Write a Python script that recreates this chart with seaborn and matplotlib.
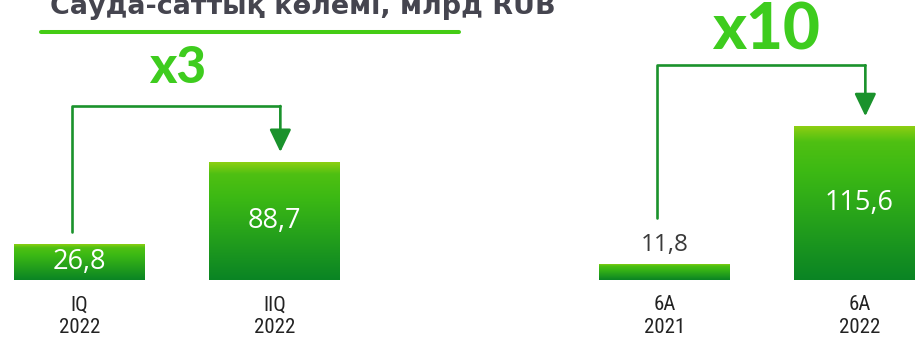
import numpy as np
import pandas as pd
import matplotlib
matplotlib.use("Agg")
import matplotlib.pyplot as plt
import seaborn as sns
from matplotlib import font_manager as fm
from matplotlib.colors import LinearSegmentedColormap
from matplotlib.lines import Line2D

# ---- data -------------------------------------------------------------
title = "Сауда-саттық көлемі, млрд RUB"

quarter_labels = ["IQ\n2022", "IIQ\n2022"]
quarter_values = [26.8, 88.7]
quarter_growth = "x3"

halfyear_labels = ["6А\n2021", "6А\n2022"]
halfyear_values = [11.8, 115.6]
halfyear_growth = "x10"

# ---- style ------------------------------------------------------------
sns.set_theme(style="white")
plt.rcParams["font.family"] = ["Open Sans", "DejaVu Sans"]

W, H = 915, 341
PX_PER_UNIT = 1.33           # vertical pixels per billion RUB
SLOT = 195                   # pixels between neighbouring bar centres
BAR_W = 131 / SLOT

TITLE_GREY = "#45454f"
ARROW_GREEN = "#1a922c"
GROWTH_GREEN = "#3ecc1e"

bar_cmap = LinearSegmentedColormap.from_list(
    "bar_grad",
    [(0.0, "#8dcf12"), (0.10, "#4fc012"), (0.30, "#3cb914"), (1.0, "#0a8424")],
)


def narrow_font():
    """A regular-weight condensed sans for the period labels, if one exists."""
    wanted = ["liberation sans narrow", "roboto condensed", "open sans condensed",
              "noto sans condensed", "dejavu sans condensed"]
    entries = fm.fontManager.ttflist
    for w in wanted:
        for f in entries:
            if f.name.lower() == w and f.style == "normal" and f.weight in (400, "normal", "regular"):
                return fm.FontProperties(fname=f.fname)
    for fam in ("Noto Sans", "DejaVu Sans", "Open Sans"):
        for f in entries:
            if (f.name == fam and f.style == "normal"
                    and f.weight in (400, "normal", "regular")
                    and str(f.stretch).lower() in ("condensed", "semi-condensed")):
                return fm.FontProperties(fname=f.fname)
    return fm.FontProperties(family=["Roboto", "DejaVu Sans"])


PERIOD_FONT = narrow_font()

fig = plt.figure(figsize=(W / 100, H / 100), dpi=100)
fig.patch.set_facecolor("white")

bottom_px = 280
ax_h = bottom_px / H
ax_b = (H - bottom_px) / H
ymax = bottom_px / PX_PER_UNIT


def gradient_bars(ax):
    """Replace flat bar fills with a vertical green gradient."""
    grad = np.linspace(0, 1, 256).reshape(-1, 1)
    for patch in list(ax.patches):
        x0, y0 = patch.get_x(), patch.get_y()
        w, h = patch.get_width(), patch.get_height()
        im = ax.imshow(grad, cmap=bar_cmap, aspect="auto", origin="upper",
                       extent=[x0, x0 + w, y0, y0 + h], zorder=2,
                       interpolation="bicubic")
        im.set_clip_path(patch)
        patch.set_facecolor("none")
        patch.set_edgecolor("none")


def panel(ax, labels, values, growth, centre_px, left_px, right_px,
          rise_px, growth_size, growth_gap_px, growth_x):
    df = pd.DataFrame({"period": labels, "value": values})
    sns.barplot(data=df, x="period", y="value", ax=ax, width=BAR_W,
                color="#3cb914", saturation=1, edgecolor="none")
    gradient_bars(ax)

    # value labels: inside the bar when there is room, above otherwise
    label_gap = []
    for i, v in enumerate(values):
        txt = f"{v:.1f}".replace(".", ",")
        if v * PX_PER_UNIT > 30:
            ax.text(i, v / 2, txt, ha="center", va="center", color="white",
                    fontsize=19.5, zorder=4)
            label_gap.append(12)
        else:
            ax.annotate(txt, xy=(i, v), xytext=(0, 5),
                        textcoords="offset points", ha="center",
                        va="bottom", color="#3a3a3a", fontsize=17.5, zorder=4)
            label_gap.append(46)

    # bracket arrow from the first bar to the second
    xs, xe = -0.04, 1.03
    y_start = values[0] + label_gap[0] / PX_PER_UNIT
    y_top = values[1] + rise_px / PX_PER_UNIT
    y_tip = values[1] + 10 / PX_PER_UNIT
    ax.plot([xs, xs, xe], [y_start, y_top, y_top], color=ARROW_GREEN,
            lw=1.9, solid_joinstyle="round", zorder=3)
    ax.annotate("", xy=(xe, y_tip), xytext=(xe, y_top),
                arrowprops=dict(arrowstyle="-|>,head_length=1.15,head_width=0.55",
                                color=ARROW_GREEN, lw=1.9,
                                shrinkA=0, shrinkB=0),
                zorder=3)
    ax.annotate(growth, xy=(growth_x, y_top), xytext=(0, growth_gap_px * 0.72),
                textcoords="offset points", ha="center", va="baseline",
                fontsize=growth_size, fontweight="black", color=GROWTH_GREEN,
                family=["Lato", "DejaVu Sans"], zorder=4)

    ax.set_ylim(0, ymax)
    ax.set_xlim((left_px - centre_px) / SLOT, (right_px - centre_px) / SLOT)
    ax.set_xlabel("")
    ax.set_ylabel("")
    ax.set_yticks([])
    ax.tick_params(axis="x", length=0, pad=11, labelcolor="#222222")
    for lbl in ax.get_xticklabels():
        lbl.set_fontproperties(PERIOD_FONT)
        lbl.set_fontsize(15)
        lbl.set_linespacing(1.22)
    for s in ax.spines.values():
        s.set_visible(False)
    ax.set_facecolor("none")


ax1 = fig.add_axes([0, ax_b, 457 / W, ax_h])
ax2 = fig.add_axes([458 / W, ax_b, 457 / W, ax_h])

panel(ax1, quarter_labels, quarter_values, quarter_growth,
      centre_px=79.5, left_px=0, right_px=457, rise_px=56,
      growth_size=37, growth_gap_px=23, growth_x=0.503)
panel(ax2, halfyear_labels, halfyear_values, halfyear_growth,
      centre_px=664.5, left_px=458, right_px=915, rise_px=61,
      growth_size=46, growth_gap_px=16, growth_x=0.523)

# title with green rule underneath, sized to span the rule's width
title_txt = fig.text(50 / W, 1 - 14.5 / H, title, ha="left", va="baseline",
                     fontsize=20, fontweight="bold", color=TITLE_GREY,
                     family="DejaVu Sans")
fig.canvas.draw()
tw = title_txt.get_window_extent().width
title_txt.set_fontsize(20 * 507 / tw)
fig.add_artist(Line2D([41 / W, 459 / W], [1 - 32 / H, 1 - 32 / H],
                      color="#44cc14", lw=2.9, transform=fig.transFigure))

fig.savefig("out.png", dpi=100, facecolor="white")
